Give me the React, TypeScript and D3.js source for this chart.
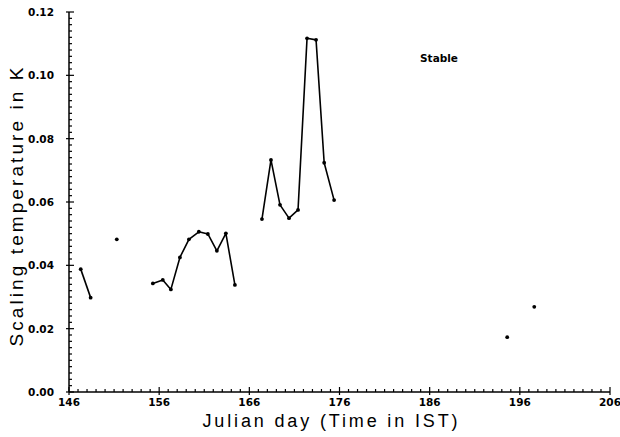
import React from "react";
import * as d3 from "d3";

const W = 620;
const H = 437;

// Data
const seg1Days = [147.3, 148.4];
const seg1Vals = [0.0388, 0.0298];

const seg2Days = [155.3, 156.4, 157.3, 158.3, 159.3, 160.4, 161.4, 162.4, 163.4, 164.4];
const seg2Vals = [0.0343, 0.0354, 0.0324, 0.0425, 0.0482, 0.0506, 0.0499, 0.0446, 0.0501, 0.0338];

const seg3Days = [167.4, 168.4, 169.4, 170.4, 171.4, 172.4, 173.4, 174.3, 175.4];
const seg3Vals = [0.0546, 0.0733, 0.0591, 0.0549, 0.0575, 0.1117, 0.1112, 0.0724, 0.0606];

const singleDays = [151.3, 194.6, 197.6];
const singleVals = [0.0482, 0.0173, 0.0269];

const xTickLabels = [146, 156, 166, 176, 186, 196, 206];
const yTickLabels = [0, 0.02, 0.04, 0.06, 0.08, 0.1, 0.12];

export default function App() {
  const x = d3.scaleLinear().domain([146, 206]).range([69, 610]);
  const y = d3.scaleLinear().domain([0, 0.12]).range([392, 12]);

  const line = d3
    .line<[number, number]>()
    .x((d) => x(d[0]))
    .y((d) => y(d[1]));

  const segments = [
    seg1Days.map((d, i) => [d, seg1Vals[i]] as [number, number]),
    seg2Days.map((d, i) => [d, seg2Vals[i]] as [number, number]),
    seg3Days.map((d, i) => [d, seg3Vals[i]] as [number, number]),
  ];
  const singles = singleDays.map((d, i) => [d, singleVals[i]] as [number, number]);

  const xMinor = d3.range(146, 206.01, 1);
  const yMinor = d3.range(0, 0.12001, 0.002);

  const tickFont = "'DejaVu Sans', sans-serif";
  const labelFont = "'Liberation Sans', 'DejaVu Sans', sans-serif";

  return (
    <svg
      width={W}
      height={H}
      style={{ position: "absolute", left: 0, top: 0, background: "#fff" }}
    >
      <rect x={0} y={0} width={W} height={H} fill="#fff" />
      {/* axes */}
      <line x1={x(146)} x2={x(206)} y1={y(0)} y2={y(0)} stroke="#000" strokeWidth={1.5} />
      <line x1={x(146)} x2={x(146)} y1={y(0)} y2={y(0.12)} stroke="#000" strokeWidth={1.5} />
      {xMinor.map((d) => {
        const major = Math.abs((d - 146) % 10) < 1e-6;
        return (
          <line
            key={"xt" + d}
            x1={x(d)}
            x2={x(d)}
            y1={y(0) + (major ? 3 : 0)}
            y2={y(0) - (major ? 5 : 3)}
            stroke="#000"
            strokeWidth={1.2}
          />
        );
      })}
      {yMinor.map((v, i) => {
        const major = i % 10 === 0;
        return (
          <line
            key={"yt" + i}
            x1={x(146) - (major ? 3 : 0)}
            x2={x(146) + (major ? 5 : 3)}
            y1={y(v)}
            y2={y(v)}
            stroke="#000"
            strokeWidth={1.2}
          />
        );
      })}
      {xTickLabels.map((d) => (
        <text
          key={"xl" + d}
          x={x(d)}
          y={y(0) + 14}
          textAnchor="middle"
          fontFamily={tickFont}
          fontWeight="bold"
          fontSize={10.5}
        >
          {d}
        </text>
      ))}
      {yTickLabels.map((v) => (
        <text
          key={"yl" + v}
          x={x(146) - 15}
          y={y(v) + 4}
          textAnchor="end"
          fontFamily={tickFont}
          fontWeight="bold"
          fontSize={10.5}
        >
          {v.toFixed(2)}
        </text>
      ))}
      {/* data */}
      {segments.map((s, i) => (
        <path
          key={"seg" + i}
          d={line(s) || ""}
          fill="none"
          stroke="#000"
          strokeWidth={1.6}
          strokeLinejoin="round"
        />
      ))}
      {segments.flat().concat(singles).map((p, i) => (
        <circle key={"pt" + i} cx={x(p[0])} cy={y(p[1])} r={1.9} fill="#000" />
      ))}
      {/* annotation */}
      <text
        x={439}
        y={62}
        textAnchor="middle"
        fontFamily={tickFont}
        fontWeight="bold"
        fontSize={10.5}
      >
        Stable
      </text>
      {/* axis titles */}
      <text
        x={330}
        y={427}
        textAnchor="middle"
        fontFamily={labelFont}
        fontSize={18}
        textLength={255}
        lengthAdjust="spacing"
      >
        Julian  day  (Time in IST)
      </text>
      <text
        transform={`translate(23, 207) rotate(-90)`}
        textAnchor="middle"
        fontFamily={labelFont}
        fontSize={19}
        textLength={279}
        lengthAdjust="spacing"
      >
        Scaling temperature in  K
      </text>
    </svg>
  );
}
